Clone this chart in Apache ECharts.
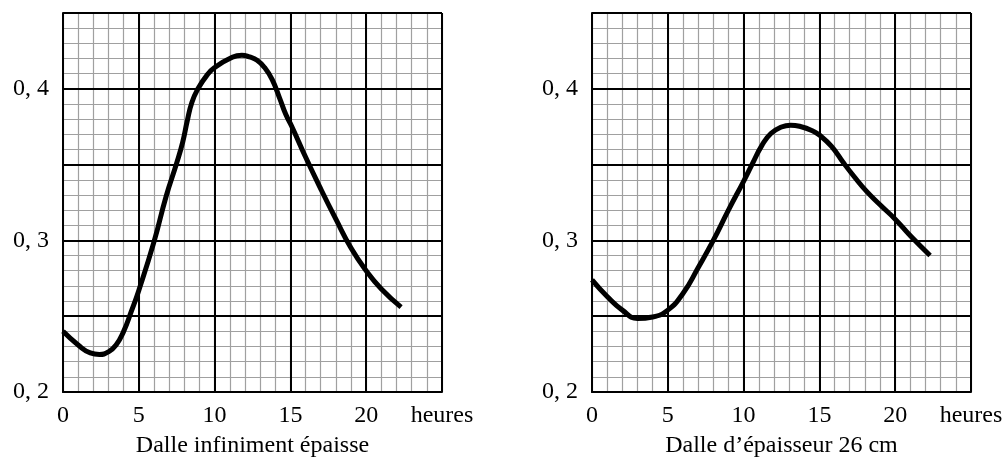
<!DOCTYPE html>
<html>
<head>
<meta charset="utf-8">
<script src="https://cdn.jsdelivr.net/npm/echarts@6/dist/echarts.min.js"></script>
<style>
html,body{margin:0;padding:0;background:#fff;}
#chart{width:1005px;height:457px;}
</style>
</head>
<body>
<div id="chart"></div>
<script>
// Left panel: "Dalle infiniment épaisse"  (hours, value)
const leftHours  = [0, 1, 1.8, 2.4, 3, 3.5, 4, 4.5, 5, 6, 6.8, 7.5, 7.9, 8.2, 8.5, 8.9, 9.5, 10, 11, 11.8, 12.3, 12.8, 13.3, 13.8, 14.3, 14.7, 15.1, 16, 17, 18, 19, 20, 21, 22.3];
const leftValues = [0.240, 0.231, 0.2258, 0.2248, 0.2265, 0.231, 0.240, 0.253, 0.267, 0.299, 0.329, 0.351, 0.365, 0.379, 0.391, 0.400, 0.409, 0.414, 0.420, 0.4222, 0.4210, 0.4188, 0.4140, 0.4060, 0.3935, 0.3830, 0.3750, 0.3550, 0.3340, 0.3140, 0.2950, 0.2800, 0.2680, 0.2560];
// Right panel: "Dalle d’épaisseur 26 cm"
const rightHours  = [0, 1, 2, 3, 4, 5, 6, 7, 8, 9, 10, 10.6, 11.2, 11.8, 12.5, 13.1, 13.8, 14.5, 15, 15.8, 16.6, 17.3, 18.1, 19, 20, 21, 22.3];
const rightValues = [0.274, 0.263, 0.254, 0.2485, 0.2495, 0.254, 0.265, 0.282, 0.300, 0.320, 0.339, 0.351, 0.3625, 0.3705, 0.3748, 0.3760, 0.3750, 0.3725, 0.3695, 0.3620, 0.3510, 0.3420, 0.3325, 0.3235, 0.314, 0.303, 0.290];

const panelTitles = ['Dalle infiniment épaisse', 'Dalle d’épaisseur 26 cm'];
const xTickValues = [0, 5, 10, 15, 20, 25];
const xTickLabels = ['0', '5', '10', '15', '20', 'heures'];
const yTickValues = [0.2, 0.3, 0.4];
const yTickLabels = ['0, 2', '0, 3', '0, 4'];

const FONT = 'Liberation Serif';
const FS = 24;

function xFmt(v) {
  const i = xTickValues.indexOf(Math.round(v));
  return i >= 0 ? xTickLabels[i] : '';
}
function yFmt(v) {
  for (let i = 0; i < yTickValues.length; i++) {
    if (Math.abs(v - yTickValues[i]) < 1e-6) return yTickLabels[i];
  }
  return '';
}

const grids = [
  {left: 63, top: 13, width: 379, height: 379, containLabel: false, outerBoundsMode: 'none'},
  {left: 592, top: 13, width: 379, height: 379, containLabel: false, outerBoundsMode: 'none'}
];

const xAxes = [], yAxes = [];
grids.forEach((g, gi) => {
  // minor grid (gray)
  xAxes.push({
    type: 'value', gridIndex: gi, min: 0, max: 25, interval: 1, position: 'bottom', z: 0,
    axisLine: {show: false}, axisTick: {show: false}, axisLabel: {show: false},
    splitLine: {show: true, lineStyle: {color: '#a0a0a0', width: 1.2}}
  });
  yAxes.push({
    type: 'value', gridIndex: gi, min: 0.2, max: 0.45, interval: 0.01, position: 'left', z: 0,
    axisLine: {show: false}, axisTick: {show: false}, axisLabel: {show: false},
    splitLine: {show: true, lineStyle: {color: '#a0a0a0', width: 1.2}}
  });
  // major grid (black) with labels
  xAxes.push({
    type: 'value', gridIndex: gi, min: 0, max: 25, interval: 5, position: 'bottom', z: 2,
    axisLine: {show: true, onZero: false, lineStyle: {color: '#000', width: 2}},
    axisTick: {show: false},
    axisLabel: {show: true, formatter: xFmt, margin: 12, color: '#000', fontFamily: FONT, fontSize: FS,
                showMinLabel: true, showMaxLabel: true},
    splitLine: {show: true, lineStyle: {color: '#000', width: 2}},
    name: panelTitles[gi], nameLocation: 'middle', nameGap: 42,
    nameTextStyle: {color: '#000', fontFamily: FONT, fontSize: FS}
  });
  yAxes.push({
    type: 'value', gridIndex: gi, min: 0.2, max: 0.45, interval: 0.05, position: 'left', z: 2,
    axisLine: {show: true, onZero: false, lineStyle: {color: '#000', width: 2}},
    axisTick: {show: false},
    axisLabel: {show: true, formatter: yFmt, margin: 14, color: '#000', fontFamily: FONT, fontSize: FS},
    splitLine: {show: true, lineStyle: {color: '#000', width: 2}}
  });
});

function pairs(xs, ys) { return xs.map((x, i) => [x, ys[i]]); }

const option = {
  animation: false,
  backgroundColor: '#fff',
  grid: grids,
  xAxis: xAxes,
  yAxis: yAxes,
  series: [
    {type: 'line', xAxisIndex: 1, yAxisIndex: 1, data: pairs(leftHours, leftValues),
     smooth: 0.5, showSymbol: false, z: 5, lineStyle: {color: '#000', width: 5}},
    {type: 'line', xAxisIndex: 3, yAxisIndex: 3, data: pairs(rightHours, rightValues),
     smooth: 0.5, showSymbol: false, z: 5, lineStyle: {color: '#000', width: 5}}
  ]
};

const chart = echarts.init(document.getElementById('chart'), null, {renderer: 'canvas'});
chart.setOption(option);
</script>
</body>
</html>
